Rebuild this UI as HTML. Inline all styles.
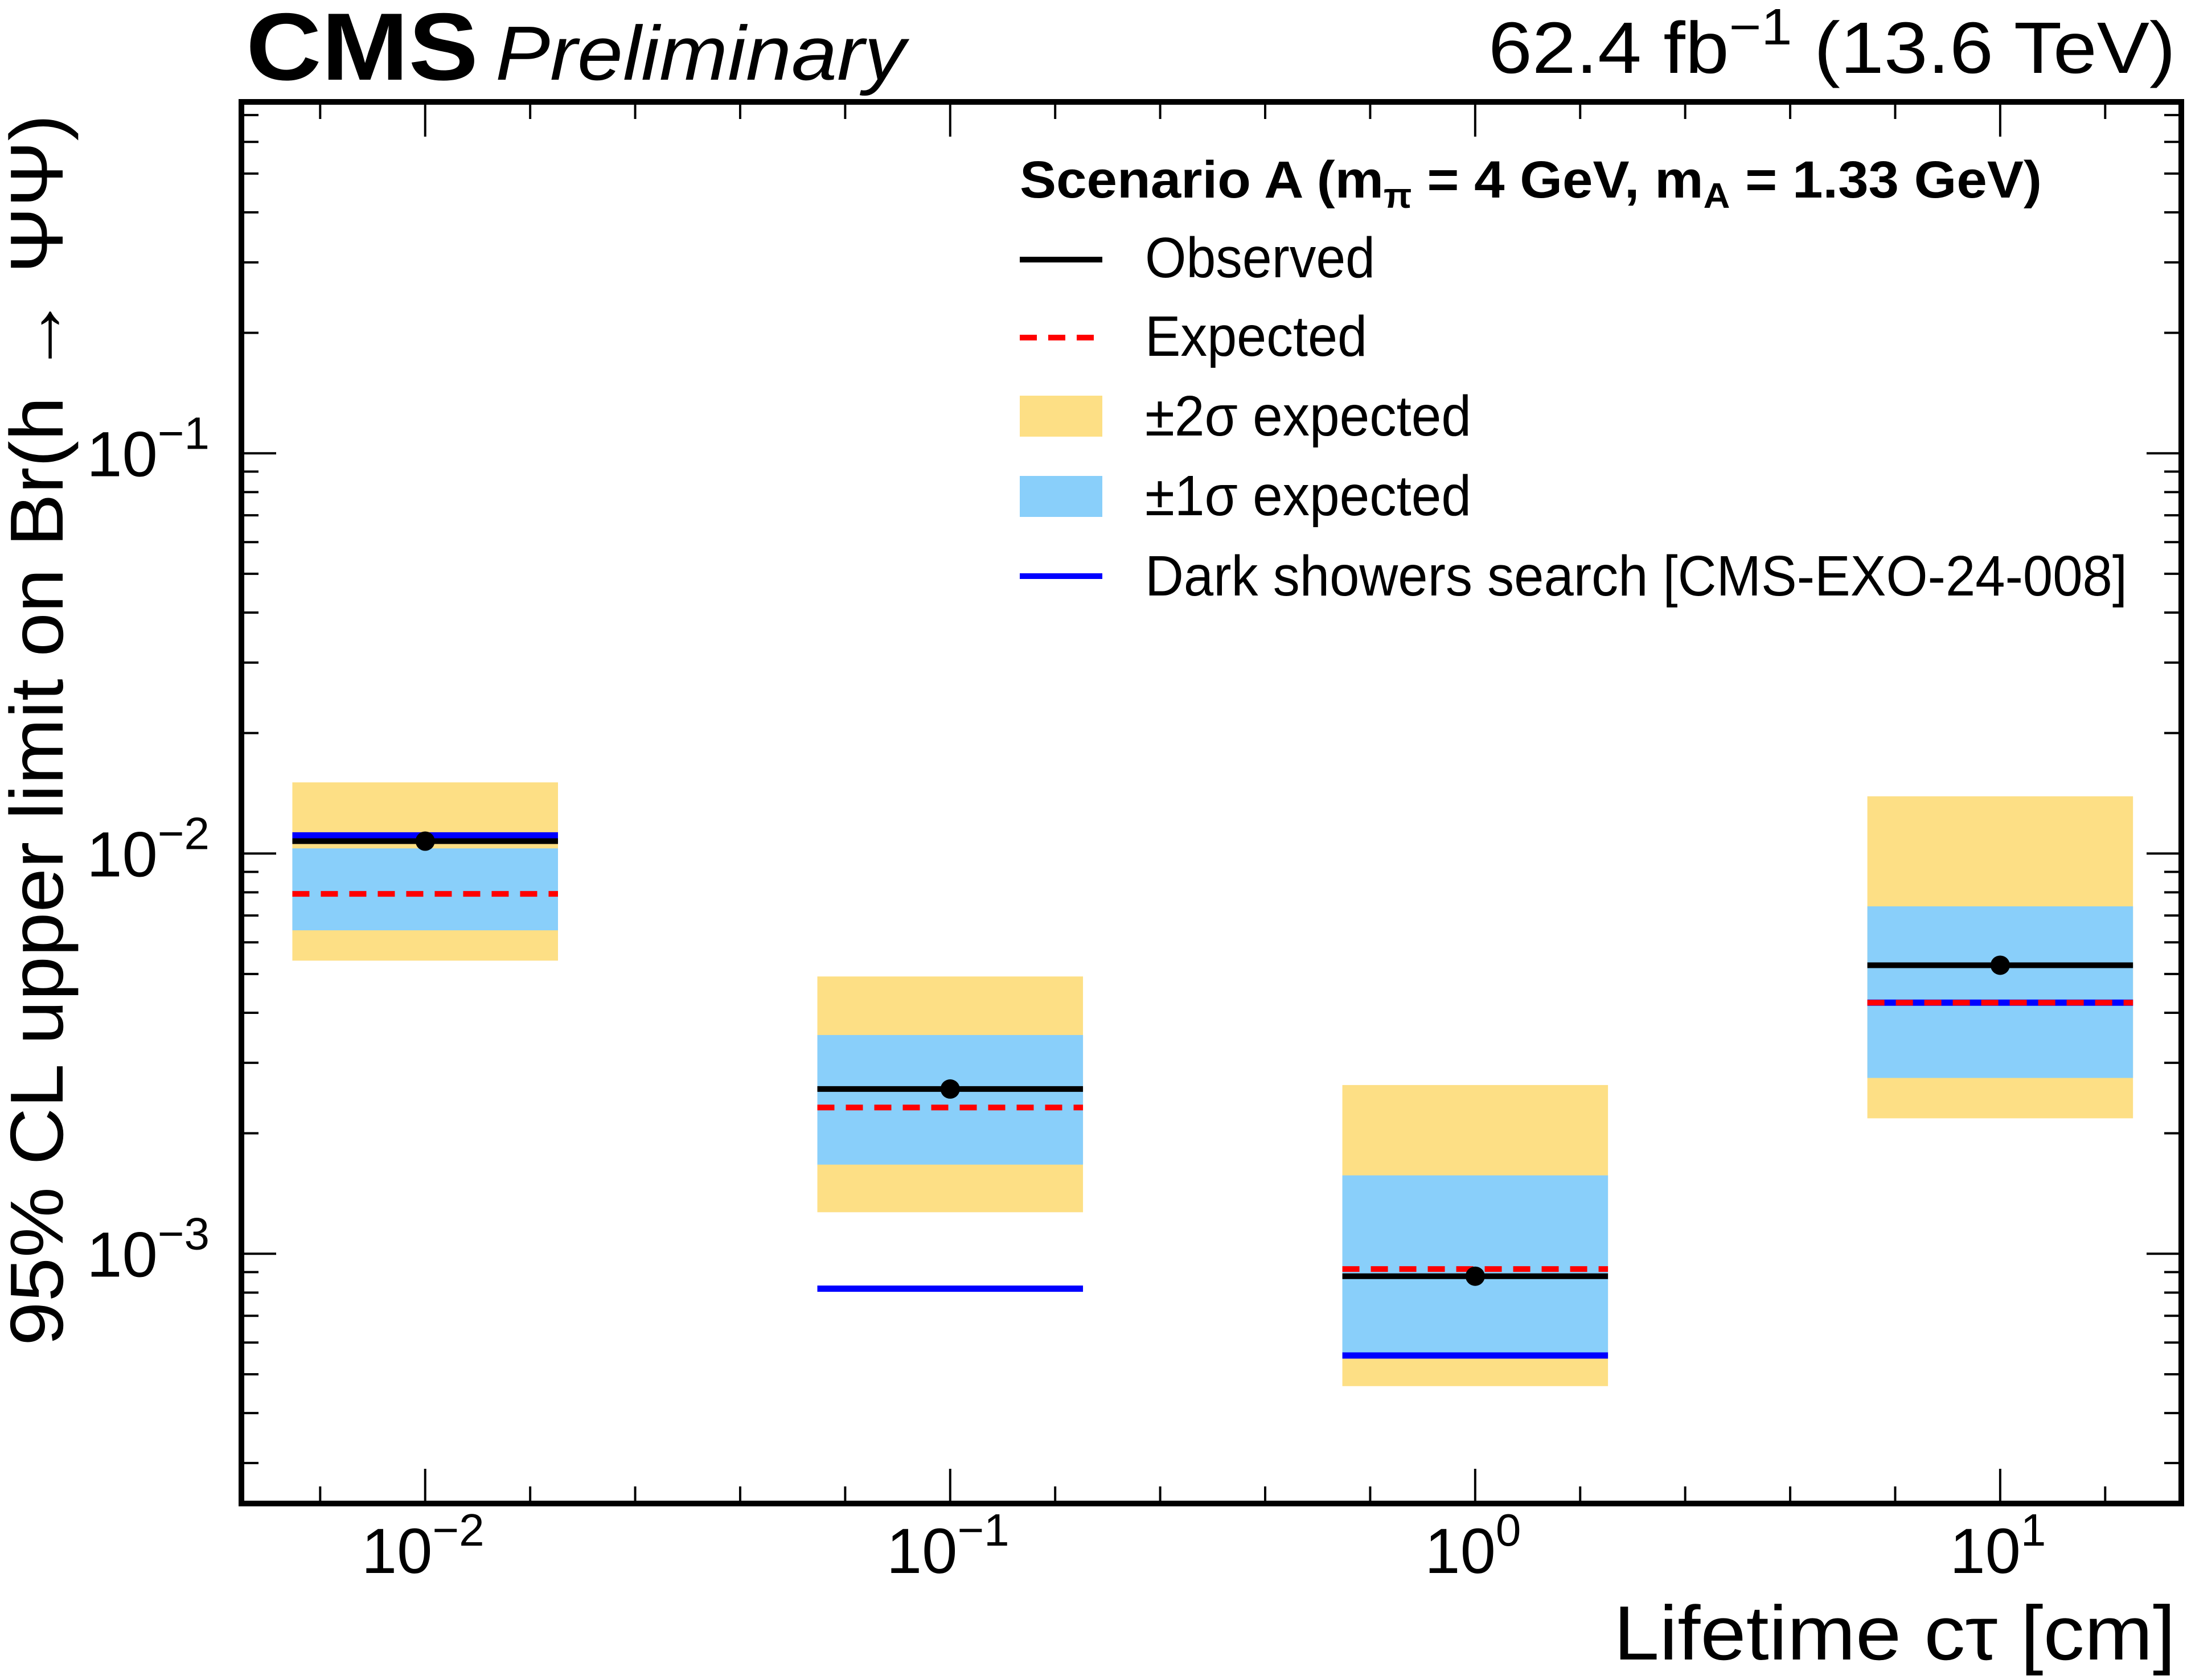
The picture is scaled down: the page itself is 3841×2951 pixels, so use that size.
<!DOCTYPE html>
<html><head><meta charset="utf-8"><style>html,body{margin:0;padding:0;background:#fff}svg{display:block}text{font-family:"Liberation Sans",sans-serif}</style></head>
<body>
<svg id="chart" xmlns="http://www.w3.org/2000/svg" width="3841" height="2951" viewBox="0 0 3841 2951">
<rect width="3841" height="2951" fill="#fff"/>
<g id="marks"></g>
<g id="axes"></g>
<text x="432" y="140" font-size="168" font-weight="bold" textLength="408" lengthAdjust="spacingAndGlyphs">CMS</text>
<text x="870" y="140" font-size="135" font-style="italic" textLength="720" lengthAdjust="spacingAndGlyphs">Preliminary</text>
<text x="3821" y="128" font-size="128" text-anchor="end" textLength="1207" lengthAdjust="spacingAndGlyphs">62.4 fb<tspan dy="-50" font-size="90">−1</tspan><tspan dy="50"> (13.6 TeV)</tspan></text>
<text x="3821" y="2915" font-size="135" text-anchor="end" textLength="987" lengthAdjust="spacingAndGlyphs">Lifetime cτ [cm]</text>
<text transform="translate(110,201) rotate(-90)" font-size="132" text-anchor="end" textLength="2163" lengthAdjust="spacingAndGlyphs">95% CL upper limit on Br(h → ΨΨ)</text>
<g>
<text x="1791" y="347" font-size="92" font-weight="bold" textLength="1795" lengthAdjust="spacingAndGlyphs">Scenario A (m<tspan dy="18" font-size="62">π</tspan><tspan dy="-18"> =  4 GeV, m</tspan><tspan dy="18" font-size="62">A</tspan><tspan dy="-18"> =  1.33 GeV)</tspan></text>
<line x1="1791" x2="1936" y1="456" y2="456" stroke="#000" stroke-width="10"/>
<text x="2011" y="487" font-size="100" textLength="404" lengthAdjust="spacingAndGlyphs">Observed</text>
<line x1="1791" x2="1936" y1="593" y2="593" stroke="#f00" stroke-width="10" stroke-dasharray="30 20"/>
<text x="2011" y="625" font-size="100" textLength="390" lengthAdjust="spacingAndGlyphs">Expected</text>
<rect x="1791" y="695" width="145" height="72" fill="#fddf85"/>
<text x="2011" y="765" font-size="100" textLength="573" lengthAdjust="spacingAndGlyphs">±2σ expected</text>
<rect x="1791" y="836" width="145" height="72" fill="#89cffa"/>
<text x="2011" y="905" font-size="100" textLength="573" lengthAdjust="spacingAndGlyphs">±1σ expected</text>
<line x1="1791" x2="1936" y1="1012" y2="1012" stroke="#00f" stroke-width="10"/>
<text x="2011" y="1046" font-size="100" textLength="1725" lengthAdjust="spacingAndGlyphs">Dark showers search [CMS-EXO-24-008]</text>
</g>
</svg>
<script>
var lifetimes=[0.01,0.1,1,10];
var observed=[0.01074,0.00258,0.000879,0.00526];
var expected=[0.00793,0.00232,0.000916,0.00424];
var band2Lo=[0.0054,0.00127,0.000467,0.00218];
var band2Hi=[0.01506,0.00493,0.00264,0.0139];
var band1Lo=[0.00643,0.00167,0.000555,0.00275];
var band1Hi=[0.0103,0.00352,0.00157,0.00738];
var darkShowers=[0.0111,0.000818,0.000557,0.00424];
var xTickExps=[-2,-1,0,1];
var yTickExps=[-1,-2,-3];

var L=424,R=3831,T=179,B=2641;
var xMinLog=-2.35,xMaxLog=1.345,yMinLog=-3.624,yMaxLog=-0.122;
function X(v){return L+(Math.log10(v)-xMinLog)/(xMaxLog-xMinLog)*(R-L);}
function Y(v){return B-(Math.log10(v)-yMinLog)/(yMaxLog-yMinLog)*(B-T);}
var NS='http://www.w3.org/2000/svg';
var marks=document.getElementById('marks'),axes=document.getElementById('axes');
function mk(tag,attrs,parent){var e=document.createElementNS(NS,tag);for(var k in attrs)e.setAttribute(k,attrs[k]);parent.appendChild(e);return e;}
var hw=0.253;
for(var i=0;i<lifetimes.length;i++){
  var c=lifetimes[i];
  var x1=X(c/Math.pow(10,hw)),x2=X(c*Math.pow(10,hw));
  var e=mk('rect',{x:x1,y:Y(band2Hi[i]),width:x2-x1,height:Y(band2Lo[i])-Y(band2Hi[i]),fill:'#fddf85'},marks);
  
  
  e=mk('rect',{x:x1,y:Y(band1Hi[i]),width:x2-x1,height:Y(band1Lo[i])-Y(band1Hi[i]),fill:'#89cffa'},marks);
  
  
  e=mk('line',{x1:x1,x2:x2,y1:Y(darkShowers[i]),y2:Y(darkShowers[i]),stroke:'#00f','stroke-width':11},marks);
  
  
  e=mk('line',{x1:x1,x2:x2,y1:Y(expected[i]),y2:Y(expected[i]),stroke:'#f00','stroke-width':10,'stroke-dasharray':'30 20'},marks);
  
  
  e=mk('line',{x1:x1,x2:x2,y1:Y(observed[i]),y2:Y(observed[i]),stroke:'#000','stroke-width':10},marks);
  
  
  e=mk('circle',{cx:X(c),cy:Y(observed[i]),r:17,fill:'#000'},marks);
  
  
}
var fr=mk('rect',{x:L,y:T,width:R-L,height:B-T,fill:'none',stroke:'#000','stroke-width':10},axes);


var p='';
for(var s=-15;s<=7;s++){var lv=s*0.2;if(lv<xMinLog||lv>xMaxLog)continue;var x=L+(lv-xMinLog)/(xMaxLog-xMinLog)*(R-L);var len=(s%5===0)?61:30;p+='M'+x+','+B+'v'+(-len)+'M'+x+','+T+'v'+len;}
for(var d2=-4;d2<=0;d2++)for(var m2=1;m2<10;m2++){var v2=m2*Math.pow(10,d2);var lv2=Math.log10(v2);if(lv2<yMinLog||lv2>yMaxLog)continue;var y=Y(v2);var len2=m2===1?61:30;p+='M'+L+','+y+'h'+len2+'M'+R+','+y+'h'+(-len2);}
var tk=mk('path',{d:p,stroke:'#000','stroke-width':4,fill:'none'},axes);


function tickLabel(xp,yp,anchor,ex,name){
  var t=mk('text',{x:xp,y:yp,'font-size':112,'text-anchor':anchor},axes);
  
  
  t.appendChild(document.createTextNode('10'));
  var s=mk('tspan',{dy:-48,'font-size':80},t);
  s.appendChild(document.createTextNode(ex<0?'\u2212'+(-ex):String(ex)));
}
for(var a=0;a<xTickExps.length;a++){tickLabel(X(Math.pow(10,xTickExps[a]))-4,2763,'middle',xTickExps[a],'x-tick-label');}
for(var b=0;b<yTickExps.length;b++){tickLabel(368,Y(Math.pow(10,yTickExps[b]))+40,'end',yTickExps[b],'y-tick-label');}
</script>
</body></html>
